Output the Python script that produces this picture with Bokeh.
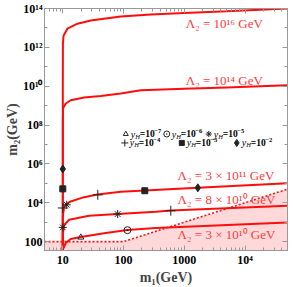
from bokeh.plotting import figure
from bokeh.models import LogAxis, FixedTicker, Label
from bokeh.embed import file_html
from bokeh.resources import INLINE

SERIF = "Liberation Serif"
RED = "#ff0d0d"
LBL_RED = "#ff3a3a"

# ---- data ----
x_ticks = [10, 100, 1000, 10000]
x_tick_labels = ["10", "100", "1000", "10\u2074"]
y_ticks = [100, 10**4, 10**6, 10**8, 10**10, 10**12, 10**14]
y_tick_labels = ["100", "10\u2074", "10\u2076", "10\u2078", "10\u00b9\u2070", "10\u00b9\u00b2", "10\u00b9\u2074"]

lam16_m1 = [10.0, 10.01, 10.05, 10.3, 11.9, 17.5, 28.9, 90, 281, 1000, 5000, 50000]
lam16_m2 = [20, 1e10, 1.6e12, 4.0e12, 9.1e12, 1.66e13, 2.4e13, 3.9e13, 4.9e13, 5.9e13, 7.2e13, 1.0e14]

lam14_m1 = [10.0, 10.02, 10.1, 11.2, 13.5, 22.4, 42.3, 90, 192, 1000, 5000, 50000]
lam14_m2 = [20, 1e8, 7.4e8, 1.29e9, 1.9e9, 2.63e9, 3.16e9, 4.27e9, 6.2e9, 7.4e9, 8.7e9, 1.12e10]

lam3e11_m1 = [10.0, 10.03, 10.5, 11.6, 13.5, 22.4, 37.3, 90, 224, 1670, 50000]
lam3e11_m2 = [20, 2000, 6000, 8900, 1.17e4, 1.95e4, 2.7e4, 3.7e4, 4.3e4, 5.9e4, 1.0e5]

lam8e10_m1 = [10.0, 10.03, 10.5, 12.7, 27.1, 79.5, 340, 600, 50000]
lam8e10_m2 = [20, 250, 700, 1350, 2140, 2630, 3500, 4000, 7100]

lam3e10_m1 = [10.0, 10.05, 11.2, 13.5, 19.8, 51, 116, 340, 50000]
lam3e10_m2 = [20, 40, 85, 138, 174, 282, 400, 500, 980]

bound_m1 = [5, 100, 50000]
bound_m2 = [100, 100, 50000]

curve_labels = ["\u039b\u2082 = 10\u00b9\u2076 GeV", "\u039b\u2082 = 10\u00b9\u2074 GeV",
                "\u039b\u2082 = 3 \u00d7 10\u00b9\u00b9 GeV", "\u039b\u2082 = 8 \u00d7 10\u00b9\u2070 GeV",
                "\u039b\u2082 = 3 \u00d7 10\u00b9\u2070 GeV"]

# markers (y_H values)
yh_exponents = ["\u22127", "\u22126", "\u22125", "\u22124", "\u22123", "\u22122"]
yh7_m1, yh7_m2 = [19.8], [166]
yh6_m1, yh6_m2 = [116], [390]
yh5_m1, yh5_m2 = [10.0, 11.6, 80], [540, 7900, 2630]
yh4_m1, yh4_m2 = [10.0, 37.7, 600], [5400, 25700, 3900]
yh3_m1, yh3_m2 = [10.0, 224], [5.2e4, 4.17e4]
yh2_m1, yh2_m2 = [10.0, 1670], [5.5e5, 5.9e4]

p = figure(width=293, height=287, x_axis_type="log", y_axis_type="log",
           x_range=(5, 5e4), y_range=(35, 1e14),
           output_backend="svg", toolbar_location=None,
           min_border_left=44, min_border_right=6, min_border_top=8, min_border_bottom=37)
p.background_fill_color = "white"
p.border_fill_color = "white"
p.outline_line_color = "#999999"
p.xgrid.visible = False
p.ygrid.visible = False

x_minor = [m * 10**e for e in range(0, 5) for m in range(2, 10) if 5 <= m * 10**e <= 50000]
y_minor = [10**e for e in range(3, 14, 2)]

def style_axis(ax, labels=True):
    ax.axis_line_color = "#999999"
    ax.major_tick_line_color = "#999999"
    ax.minor_tick_line_color = "#999999"
    ax.major_tick_in = 5
    ax.major_tick_out = 0
    ax.minor_tick_in = 3
    ax.minor_tick_out = 0
    ax.major_label_text_font = SERIF
    ax.major_label_text_font_style = "bold"
    ax.major_label_text_font_size = "12px" if labels else "1px"
    ax.major_label_text_color = "black"
    ax.major_label_standoff = 2 if labels else 0

style_axis(p.xaxis[0])
style_axis(p.yaxis[0])
p.xaxis[0].ticker = FixedTicker(ticks=x_ticks, minor_ticks=x_minor)
p.yaxis[0].ticker = FixedTicker(ticks=y_ticks, minor_ticks=y_minor)
p.xaxis[0].major_label_overrides = dict(zip(x_ticks, x_tick_labels))
p.yaxis[0].major_label_overrides = dict(zip(y_ticks, y_tick_labels))
for ax, txt in [(p.xaxis[0], "m\u2081(GeV)"), (p.yaxis[0], "m\u2082(GeV)")]:
    ax.axis_label = txt
    ax.axis_label_text_font = SERIF
    ax.axis_label_text_font_style = "bold"
    ax.axis_label_text_font_size = "14px"
    ax.axis_label_standoff = 0

ra = LogAxis(ticker=FixedTicker(ticks=y_ticks, minor_ticks=y_minor))
style_axis(ra, labels=False)
ra.major_label_overrides = {t: "" for t in y_ticks}
p.add_layout(ra, "right")
ta = LogAxis(ticker=FixedTicker(ticks=x_ticks, minor_ticks=x_minor))
style_axis(ta, labels=False)
ta.major_label_overrides = {t: "" for t in x_ticks}
p.add_layout(ta, "above")

# excluded region
p.varea(x=bound_m1, y1=[1, 1, 1], y2=bound_m2, fill_color="#ffd9d9", fill_alpha=1.0)
p.line(bound_m1, bound_m2, line_color=RED, line_width=1.6, line_dash="2 2")

for xs, ys in [(lam16_m1, lam16_m2), (lam14_m1, lam14_m2), (lam3e11_m1, lam3e11_m2),
               (lam8e10_m1, lam8e10_m2), (lam3e10_m1, lam3e10_m2)]:
    p.line(xs, ys, line_color=RED, line_width=2)

MK = "#222222"
p.scatter(yh7_m1, yh7_m2, marker="triangle", size=6, fill_color=None, line_color=MK, line_width=1)
p.scatter(yh6_m1, yh6_m2, marker="circle_dot", size=7, fill_color=None, line_color=MK, line_width=1)
p.scatter(yh5_m1, yh5_m2, marker="asterisk", size=8, line_color=MK, line_width=1)
p.scatter(yh4_m1, yh4_m2, marker="cross", size=10, line_color=MK, line_width=1)
p.scatter(yh3_m1, yh3_m2, marker="square", size=6, fill_color=MK, line_color=MK)
p.scatter(yh2_m1, yh2_m2, marker="diamond", size=8, fill_color=MK, line_color=MK)

# curve labels
label_pos = [(1060, 10**13.23), (1060, 10**10.31), (776, 10**5.38), (776, 10**4.15), (776, 10**2.36)]
for (lx, ly), txt in zip(label_pos, curve_labels):
    p.add_layout(Label(x=lx, y=ly, text=txt, text_font=SERIF, text_font_size="13px",
                       text_color=LBL_RED, text_baseline="middle", text_align="left"))

# legend block
leg_marker_pos = [(109, 10**7.54), (515, 10**7.54), (2530, 10**7.54),
                  (105, 10**7.08), (910, 10**7.08), (7310, 10**7.08)]
leg_markers = [("triangle", None, 5), ("circle_dot", None, 6), ("asterisk", None, 6),
               ("cross", None, 7), ("square", MK, 5), ("diamond", MK, 7)]
for (mx, my), (mk, fc, sz), ex in zip(leg_marker_pos, leg_markers, yh_exponents):
    p.scatter([mx], [my], marker=mk, size=sz, fill_color=fc, line_color=MK, line_width=1)
    p.add_layout(Label(x=mx, y=my, x_offset=5, text="y", text_font=SERIF, text_font_style="italic",
                       text_font_size="10px", text_baseline="middle", text_color="black"))
    p.add_layout(Label(x=mx, y=my, x_offset=9.5, y_offset=-2, text="H", text_font=SERIF,
                       text_font_style="italic", text_font_size="6.5px", text_baseline="middle",
                       text_color="black"))
    p.add_layout(Label(x=mx, y=my, x_offset=14, text="=10", text_font=SERIF, text_font_style="bold",
                       text_font_size="9.5px", text_baseline="middle", text_color="black"))
    p.add_layout(Label(x=mx, y=my, x_offset=28.5, y_offset=3, text=ex, text_font=SERIF,
                       text_font_style="bold", text_font_size="6.5px", text_baseline="middle",
                       text_color="black"))

open("out.html", "w").write(file_html(p, INLINE))
